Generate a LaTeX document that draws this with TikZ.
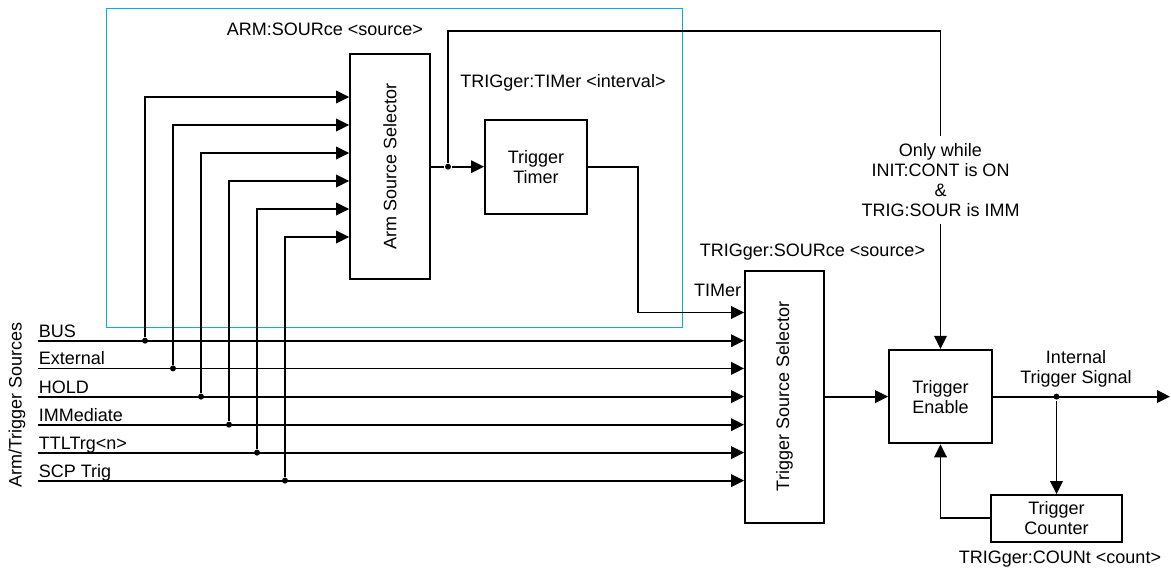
\documentclass[tikz,border=0pt]{standalone}
\usepackage{fontspec}
\setmainfont{Liberation Sans}
\usetikzlibrary{arrows.meta,calc}

\begin{document}
\begin{tikzpicture}[x=1pt,y=-1pt,>={Triangle[length=13pt,width=12.5pt]},
  line width=1.8pt,font=\fontsize{18}{20}\selectfont,
  blk/.style={draw,inner sep=0pt,align=center},
  dot/.style={circle,fill=black,inner sep=0pt,minimum size=6pt},
  lab/.style={anchor=base west,yshift=3.5pt,inner sep=0pt}]
  \useasboundingbox (0,0) rectangle (1171,573);
  % arm layer frame
  \draw[cyan,line width=1pt] (106,8) rectangle (682,327);
  % blocks
  \node[blk,minimum width=80pt,minimum height=225pt] (ass) at (390,166.7) {\rotatebox{90}{Arm Source Selector}};
  \node[blk,minimum width=102pt,minimum height=94pt] (tmr) at (536,166.7) {Trigger\\Timer};
  \node[blk,minimum width=79pt,minimum height=252pt] (tss) at (784.5,396.6) {\rotatebox{90}{Trigger Source Selector}};
  \node[blk,minimum width=103pt,minimum height=93.5pt] (enable) at (940.5,396.6) {Trigger\\Enable};
  \node[blk,minimum width=131pt,minimum height=46.7pt] (counter) at (1056.5,518.3) {Trigger\\Counter};
  % sources, taps to the arm selector
  \node[rotate=90] (srcs) at (17,405) {Arm/Trigger Sources};
  \foreach \i/\ya/\xt/\ys/\lab in {1/97/145/340.7/BUS,2/125/173/368.4/External,
      3/153/201/396.6/HOLD,4/181/229/424.7/IMMediate,5/209/257/452.6/TTLTrg<n>,6/237/285/480.6/SCP Trig}{
    \coordinate (s\i) at (38,\ys);
    \node[dot] (d\i) at (\xt,\ys) {};
    \draw[->] (s\i) node[lab] {\lab} -- (s\i -| tss.west);
    \draw[->] (d\i) |- (ass.west |- 0,\ya);
  }
  % arm output
  \node[dot] (jn) at (448,166.7) {};
  \draw (ass.east) -- (jn);
  \draw[->] (jn) -- (tmr.west);
  \coordinate (top) at (940.5,31);
  \node[align=center,inner xsep=0pt,inner ysep=6pt] (cond) at (940.5,180) {Only while\\INIT:CONT is ON\\\&\\TRIG:SOUR is IMM};
  \draw (jn) |- (top) -- (cond.north);
  \draw[->] (cond.south) -- (enable.north);
  % timer into trigger selector
  \coordinate (tk) at (638,312.5);
  \draw[->] (tmr.east) -| (tk) -- (tk -| tss.west);
  \node[anchor=east,inner sep=0pt] (timlab) at (742,290.6) {TIMer};
  % enable and counter
  \draw[->] (tss.east) -- (enable.west);
  \coordinate (out) at (1170,396.6);
  \node[dot] (jo) at (1056.5,396.6) {};
  \draw[->] (enable.east) -- (out);
  \draw[->] (jo) -- (counter.north);
  \draw[->] (counter.west) -| (enable.south);
  % command labels
  \node (armsrc) at (325,29) {ARM:SOURce <source>};
  \node (tmrcmd) at (563,82.7) {TRIGger:TIMer <interval>};
  \node (trgsrc) at (812.5,252.2) {TRIGger:SOURce <source>};
  \node[align=center] (its) at (1076,369) {Internal\\Trigger Signal};
  \node (cntcmd) at (1060,559) {TRIGger:COUNt <count>};
\end{tikzpicture}
\end{document}
